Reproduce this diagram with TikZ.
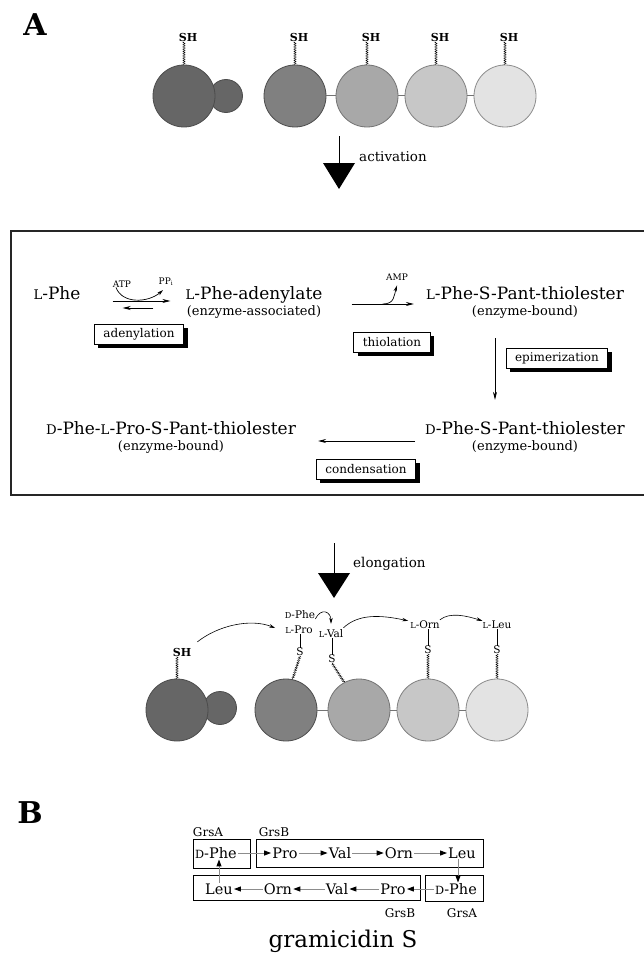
\documentclass[tikz,border=0pt]{standalone}
\usepackage{fontspec}
\setmainfont{DejaVu Serif}
\usepackage{graphicx}
\usetikzlibrary{
    arrows.meta,
    positioning,
    shadows,
    decorations.pathmorphing
}

\definecolor{modA}{gray}{0.40}
\definecolor{modB}{gray}{0.50}
\definecolor{modC}{gray}{0.66}
\definecolor{modD}{gray}{0.78}
\definecolor{modE}{gray}{0.89}

% small capital for L / D prefixes
\newcommand{\chir}[1]{\scalebox{0.78}{#1}}

\tikzset{
    chem/.style={inner sep=0pt, text height=12.5pt, text depth=3.5pt, font=\fontsize{17}{20}\selectfont},
    chemsub/.style={inner sep=0pt, text height=10pt, text depth=3pt, font=\fontsize{13}{15}\selectfont},
    cofac/.style={inner sep=0pt, font=\fontsize{9}{10}\selectfont},
    stepname/.style={draw=black, line width=0.8pt, fill=white, inner xsep=9pt, minimum height=20pt,
        font=\fontsize{12}{14}\selectfont,
        drop shadow={shadow xshift=4pt, shadow yshift=-4pt, fill=black, opacity=1}},
    rxn/.style={line width=0.7pt, -{Stealth[length=8pt,width=4pt]}},
    cofarr/.style={line width=0.7pt, -{Stealth[length=6pt,width=3.5pt]}},
    module/.style={circle, draw=black!70, line width=0.8pt, minimum size=62pt, inner sep=0pt},
    minimod/.style={circle, draw=black!70, line width=0.8pt, minimum size=33pt, inner sep=0pt},
    linker/.style={draw=black!55, line width=1pt},
    ppant/.style={decorate, decoration={zigzag, amplitude=1.1pt, segment length=1.8pt}, line width=0.35pt},
    shlabel/.style={inner sep=0pt, font=\fontsize{11}{12}\selectfont\bfseries},
    aalabel/.style={inner sep=0pt, text height=7.5pt, text depth=0.5pt, font=\fontsize{10.5}{12}\selectfont},
    transfer/.style={line width=0.6pt, -{Stealth[length=6pt,width=3.5pt]}},
    stagelabel/.style={anchor=west, inner sep=0pt, font=\fontsize{13.5}{15}\selectfont},
    seq/.style={inner sep=0pt, text height=10.5pt, text depth=0pt, font=\fontsize{14.5}{16}\selectfont},
    grs/.style={inner sep=0pt, font=\fontsize{12}{14}\selectfont},
    seqarr/.style={draw=black!45, line width=1pt, shorten <=1pt, shorten >=1pt,
        -{Triangle[length=7pt,width=5pt,color=black]}},
    panel/.style={inner sep=0pt, font=\fontsize{30}{30}\selectfont\bfseries}
}

\begin{document}
\begin{tikzpicture}[x=1pt, y=-1pt]
    \useasboundingbox[fill=white] (0,0) rectangle (644,955);

    % Panel letters
    \node[panel] (pA) at (35,25) {A};
    \node[panel] (pB) at (30,813) {B};

    % Free synthetase modules
    \node[minimod, fill=modA] (t0s) at (226,96) {};
    \node[module, fill=modA] (t0) at (184,96) {};
    \node[module, fill=modB] (t1) at (295,96) {};
    \node[module, fill=modC, draw=black!55] (t2) at (367,96) {};
    \node[module, fill=modD, draw=black!50] (t3) at (436,96) {};
    \node[module, fill=modE, draw=black!45] (t4) at (505,96) {};
    \draw[linker] (t1.east) -- (t2.west);
    \draw[linker] (t2.east) -- (t3.west);
    \draw[linker] (t3.east) -- (t4.west);
    \foreach \m in {t0,t1,t2,t3,t4} {
        \node[shlabel, above=23pt of \m.north, xshift=4pt] (\m-sh) {SH};
        \draw[ppant] (\m.north) -- (\m.north |- \m-sh.south);
    }

    % Activation arrow
    \draw[line width=0.8pt] (339,136) -- (339,164);
    \fill (323,163) -- (355,163) -- (339,189) -- cycle;
    \node[stagelabel] (act) at (359,157) {activation};

    % Reaction frame
    \draw[line width=1.2pt, black!85] (644,231) -- (11,231) -- (11,495) -- (644,495);

    % Intermediates
    \node[chem] (lphe) at (57,295) {\chir{L}-Phe};
    \node[chem] (aden) at (254,295) {\chir{L}-Phe-adenylate};
    \node[chemsub, below=2.5pt of aden] (adensub) {(enzyme-associated)};
    \node[chem] (lphes) at (525,295) {\chir{L}-Phe-S-Pant-thiolester};
    \node[chemsub, below=2.5pt of lphes] (lphessub) {(enzyme-bound)};
    \node[chem] (dphes) at (525,430) {\chir{D}-Phe-S-Pant-thiolester};
    \node[chemsub, below=2.5pt of dphes] (dphessub) {(enzyme-bound)};
    \node[chem] (dpp) at (171,430) {\chir{D}-Phe-\chir{L}-Pro-S-Pant-thiolester};
    \node[chemsub, below=2.5pt of dpp] (dppsub) {(enzyme-bound)};

    % Cofactors
    \node[cofac] (atp) at (122,284) {ATP};
    \node[cofac] (ppi) at (166,282) {PP$_\mathrm{i}$};
    \node[cofac] (amp) at (397,277) {AMP};

    % Step names
    \node[stepname] (adenyl) at (139,334) {adenylation};
    \node[stepname] (thiol) at (392,342) {thiolation};
    \node[stepname] (epim) at (557,358) {epimerization};
    \node[stepname] (cond) at (366,469) {condensation};

    % Adenylation equilibrium
    \draw[rxn] ([xshift=32pt,yshift=-6pt]lphe.east) -- ([xshift=-15pt,yshift=-6pt]aden.west);
    \draw[rxn] ([xshift=-32pt,yshift=-13pt]aden.west) -- ([xshift=42pt,yshift=-13pt]lphe.east);
    \draw[cofarr] ([xshift=-6pt]atp.south) .. controls (122,304) and (148,303) .. ([xshift=-3pt,yshift=-4pt]ppi.south);

    % Thiolation
    \draw[rxn] ([xshift=29pt,yshift=-9pt]aden.east) -- coordinate[pos=0.5] (thmid) ([xshift=-12pt,yshift=-9pt]lphes.west);
    \draw[cofarr] (thmid) .. controls +(12,0) and +(-3,10) .. ([yshift=-5pt]amp.south);

    % Epimerization and condensation
    \draw[rxn] ([xshift=-30pt,yshift=-26pt]lphessub.center) -- ([xshift=-30pt,yshift=22pt]dphes.north);
    \draw[rxn] ([xshift=-10pt,yshift=-11pt]dphes.west) -- ([xshift=22pt,yshift=-11pt]dpp.east);

    % Elongation arrow
    \draw[line width=0.8pt] (334,543) -- (334,574);
    \fill (318,573) -- (350,573) -- (334,598) -- cycle;
    \node[stagelabel] (elong) at (353,564) {elongation};

    % Loaded modules
    \node[minimod, fill=modA] (b0s) at (220,708) {};
    \node[module, fill=modA] (b0) at (177,710) {};
    \node[module, fill=modB] (b1) at (286,710) {};
    \node[module, fill=modC, draw=black!55] (b2) at (359,710) {};
    \node[module, fill=modD, draw=black!50] (b3) at (428,710) {};
    \node[module, fill=modE, draw=black!45] (b4) at (497,710) {};
    \draw[linker] (b1.east) -- (b2.west);
    \draw[linker] (b2.east) -- (b3.west);
    \draw[linker] (b3.east) -- (b4.west);

    \node[shlabel, above=22pt of b0.north, xshift=5pt] (b0-sh) {SH};
    \draw[ppant] (b0.north) -- (b0.north |- b0-sh.south);

    % Bound amino acids
    \node[aalabel] (dphe) at (300,615) {\chir{D}-Phe};
    \node[aalabel] (lpro) at (299,630) {\chir{L}-Pro};
    \node[aalabel] (s1) at (300,652) {S};
    \draw[line width=0.5pt] (lpro.south -| s1.north) -- (s1.north);
    \draw[ppant] (s1.south) -- (b1.78);

    \node[aalabel] (lval) at (331,634) {\chir{L}-Val};
    \node[aalabel] (s2) at (332,659) {S};
    \draw[line width=0.5pt] (lval.south -| s2.north) -- (s2.north);
    \draw[ppant] (s2.south) -- (b2.118);

    \node[aalabel] (lorn) at (425,625) {\chir{L}-Orn};
    \node[aalabel] (s3) at (428,650) {S};
    \draw[line width=0.5pt] (lorn.south -| s3.north) -- (s3.north);
    \draw[ppant] (s3.south) -- (b3.north);

    \node[aalabel] (lleu) at (497,625) {\chir{L}-Leu};
    \node[aalabel] (s4) at (497,650) {S};
    \draw[line width=0.5pt] (lleu.south -| s4.north) -- (s4.north);
    \draw[ppant] (s4.south) -- (b4.north);

    % Transfer arrows
    \draw[transfer] ([shift={(6pt,6pt)}]b0-sh.north east) .. controls +(20,-16) and +(-25,-10) .. ([xshift=-10pt,yshift=2pt]lpro.west);
    \draw[transfer] ([yshift=-4pt]dphe.east) .. controls +(6,-12) and +(0,-12) .. ([yshift=6pt]lval.north);
    \draw[transfer] ([yshift=2pt]lval.north east) .. controls +(15,-14) and +(-28,-6) .. ([xshift=-2pt]lorn.north west);
    \draw[transfer] ([yshift=1pt]lorn.north east) .. controls +(10,-8) and +(-16,-5) .. (lleu.north west);

    % Panel B: cyclic sequence
    \node[grs] (grsA1) at (208,832) {GrsA};
    \node[grs] (grsB1) at (274,832) {GrsB};
    \node[grs] (grsB2) at (400,913) {GrsB};
    \node[grs] (grsA2) at (462,913) {GrsA};

    \draw[line width=0.9pt] (193,839) rectangle (250,868);
    \draw[line width=0.9pt] (256,839) rectangle (483,867);
    \draw[line width=0.9pt] (193,875) rectangle (420,900);
    \draw[line width=0.9pt] (425,875) rectangle (483,901);

    \node[seq] (r1phe) at (216,853) {\chir{D}-Phe};
    \node[seq] (r1pro) at (285,853) {Pro};
    \node[seq] (r1val) at (340,853) {Val};
    \node[seq] (r1orn) at (399,853) {Orn};
    \node[seq] (r1leu) at (462,853) {Leu};

    \node[seq] (r2leu) at (219,889) {Leu};
    \node[seq] (r2orn) at (278,889) {Orn};
    \node[seq] (r2val) at (337,889) {Val};
    \node[seq] (r2pro) at (393,889) {Pro};
    \node[seq] (r2phe) at (456,889) {\chir{D}-Phe};

    \draw[seqarr] (r1phe.east) -- (r1pro.west);
    \draw[seqarr] (r1pro.east) -- (r1val.west);
    \draw[seqarr] (r1val.east) -- (r1orn.west);
    \draw[seqarr] (r1orn.east) -- (r1leu.west);
    \draw[seqarr] ([xshift=-4pt]r1leu.south) -- ([xshift=-4pt]r1leu.south |- r2phe.north);
    \draw[seqarr] (r2phe.west) -- (r2pro.east);
    \draw[seqarr] (r2pro.west) -- (r2val.east);
    \draw[seqarr] (r2val.west) -- (r2orn.east);
    \draw[seqarr] (r2orn.west) -- (r2leu.east);
    \draw[seqarr] (r2leu.north) -- (r2leu.north |- r1phe.south);

    \node[inner sep=0pt, font=\fontsize{23}{26}\selectfont] (gs) at (343,941) {gramicidin S};
\end{tikzpicture}
\end{document}
